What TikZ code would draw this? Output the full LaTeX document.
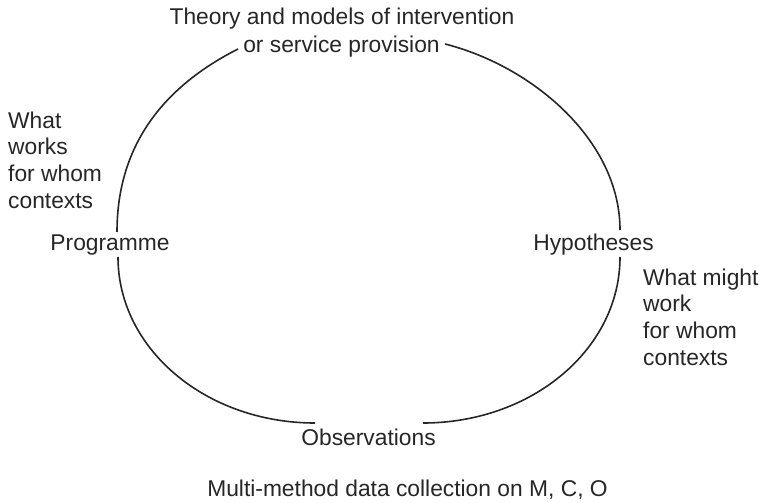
\documentclass[tikz,border=0pt]{standalone}
\usepackage{fontspec}
\setmainfont{Liberation Sans}
\begin{document}
\begin{tikzpicture}[x=1pt,y=-1pt,
  lbl/.style={font=\fontsize{22.8}{26.7}\selectfont, inner sep=0pt, text=black!85},
  cyc/.style={line width=1.6pt, draw=black!85}]
\useasboundingbox (0,0) rectangle (763,503);
% labels
\node[lbl, anchor=base] (theory) at (342,25) {Theory and models of intervention};
\node[lbl, anchor=base] (service) at (341.5,53) {or service provision};
\node[lbl, anchor=base] (prog) at (110,250) {Programme};
\node[lbl, anchor=base] (hyp) at (593.5,250) {Hypotheses};
\node[lbl, anchor=base] (obs) at (368.5,445) {Observations};
\node[lbl, anchor=base] (multi) at (407.5,496) {Multi-method data collection on M, C, O};
\node[lbl, anchor=north west, align=left] (works) at (8,111.4) {What\\works\\for whom\\contexts};
\node[lbl, anchor=north west, align=left] (might) at (643,268.4) {What might\\work\\for whom\\contexts};
% arc end points
\coordinate (tl) at (238,49);
\coordinate (tr) at (445,44);
\coordinate (pt) at (117,232);
\coordinate (pb) at (118,257);
\coordinate (ht) at (620,230);
\coordinate (hb) at (620,257);
\coordinate (ol) at (315,423);
\coordinate (or) at (423,423);
% cycle arcs
\draw[cyc] (tl) .. controls (167,85) and (117,142) .. (pt);
\draw[cyc] (pb) .. controls (118,349) and (206,423) .. (ol);
\draw[cyc] (or) .. controls (532,423) and (620,349) .. (hb);
\draw[cyc] (tr) .. controls (532,66) and (620,140) .. (ht);
\end{tikzpicture}
\end{document}
